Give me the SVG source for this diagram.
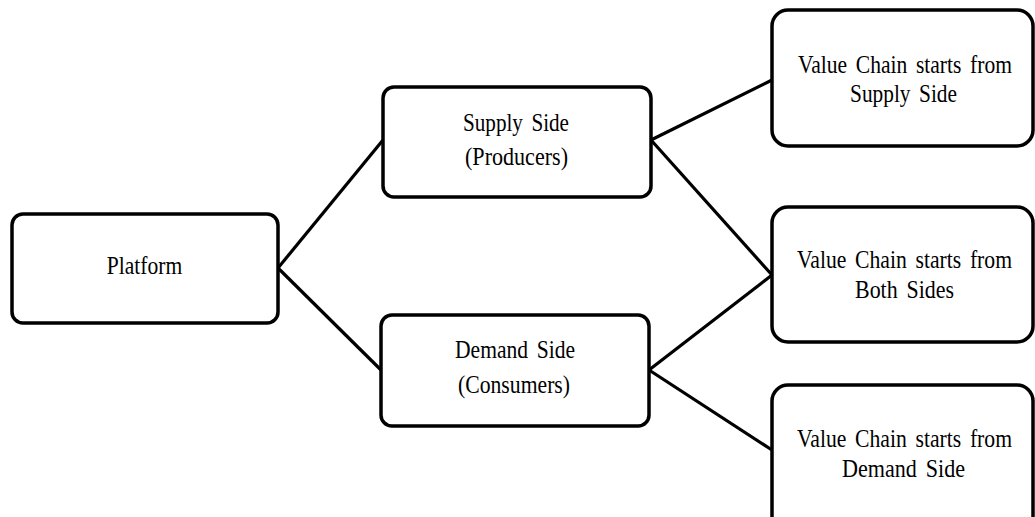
<svg xmlns="http://www.w3.org/2000/svg" width="1035" height="517" viewBox="0 0 1035 517">
  <style>
    .box { fill: #ffffff; stroke: #000000; stroke-width: 3.5; }
    .link { stroke: #000000; stroke-width: 3.2; fill: none; }
    .lbl { font-family: "Liberation Serif", "Times New Roman", serif; font-size: 20px; fill: #000000; word-spacing: 3px; text-anchor: middle; }
  </style>
  <rect width="1035" height="517" fill="#ffffff"/>

  <!-- connectors -->
  <g id="connectors">
    <line class="link" x1="278" y1="268" x2="383" y2="140"/>
    <line class="link" x1="278" y1="268" x2="381" y2="370"/>
    <line class="link" x1="651" y1="140" x2="772" y2="80"/>
    <line class="link" x1="651" y1="140" x2="772" y2="275"/>
    <line class="link" x1="649" y1="370" x2="772" y2="275"/>
    <line class="link" x1="649" y1="370" x2="772" y2="450"/>
  </g>

  <!-- labels are set in a tall, narrow serif: each line is stretched vertically about its baseline -->
  <g id="platform">
    <rect class="box" x="12" y="214" width="266" height="109" rx="11"/>
    <text class="lbl" transform="translate(144.5 274) scale(1 1.25)" textLength="75.5" lengthAdjust="spacingAndGlyphs">Platform</text>
  </g>

  <g id="supply-side">
    <rect class="box" x="383" y="87" width="268" height="110" rx="11"/>
    <text class="lbl" transform="translate(516 131) scale(1 1.25)" textLength="106" lengthAdjust="spacingAndGlyphs">Supply Side</text>
    <text class="lbl" transform="translate(516.5 165) scale(1 1.25)" textLength="103" lengthAdjust="spacingAndGlyphs">(Producers)</text>
  </g>

  <g id="demand-side">
    <rect class="box" x="381" y="315" width="268" height="111" rx="11"/>
    <text class="lbl" transform="translate(515 358) scale(1 1.25)" textLength="120" lengthAdjust="spacingAndGlyphs">Demand Side</text>
    <text class="lbl" transform="translate(514 393) scale(1 1.25)" textLength="112" lengthAdjust="spacingAndGlyphs">(Consumers)</text>
  </g>

  <g id="chain-supply">
    <rect class="box" x="772" y="10" width="261" height="136" rx="16"/>
    <text class="lbl" transform="translate(905 73) scale(1 1.25)" textLength="214" lengthAdjust="spacingAndGlyphs">Value Chain starts from</text>
    <text class="lbl" transform="translate(903.5 102) scale(1 1.25)" textLength="107" lengthAdjust="spacingAndGlyphs">Supply Side</text>
  </g>

  <g id="chain-both">
    <rect class="box" x="772" y="207" width="261" height="135" rx="16"/>
    <text class="lbl" transform="translate(904.5 268) scale(1 1.25)" textLength="215" lengthAdjust="spacingAndGlyphs">Value Chain starts from</text>
    <text class="lbl" transform="translate(904.5 298) scale(1 1.25)" textLength="99" lengthAdjust="spacingAndGlyphs">Both Sides</text>
  </g>

  <g id="chain-demand">
    <rect class="box" x="772" y="385" width="261" height="150" rx="16"/>
    <text class="lbl" transform="translate(904.5 447) scale(1 1.25)" textLength="215" lengthAdjust="spacingAndGlyphs">Value Chain starts from</text>
    <text class="lbl" transform="translate(903.5 477) scale(1 1.25)" textLength="123" lengthAdjust="spacingAndGlyphs">Demand Side</text>
  </g>
</svg>
